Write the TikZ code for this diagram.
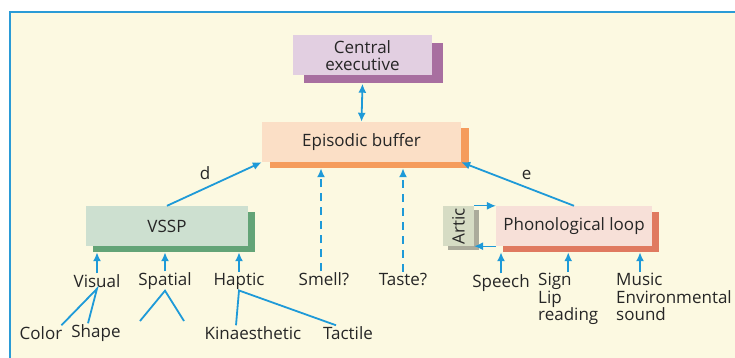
\documentclass[tikz,border=0pt]{standalone}
\usepackage{fontspec}
\setmainfont{Open Sans}
\usetikzlibrary{arrows.meta,calc,shadows}
\definecolor{PaperYellow}{RGB}{252,249,225}
\definecolor{FrameBlue}{RGB}{42,155,214}
\definecolor{ArrowBlue}{RGB}{30,154,216}
\definecolor{InkGray}{RGB}{38,38,38}
\definecolor{ExecLight}{RGB}{226,207,225}
\definecolor{ExecDark}{RGB}{168,111,160}
\definecolor{BufLight}{RGB}{251,223,198}
\definecolor{BufDark}{RGB}{245,156,92}
\definecolor{VsspLight}{RGB}{205,224,208}
\definecolor{VsspDark}{RGB}{99,164,119}
\definecolor{PhonLight}{RGB}{247,224,216}
\definecolor{PhonDark}{RGB}{224,122,96}
\definecolor{ArticLight}{RGB}{214,220,196}
\definecolor{ArticDark}{RGB}{171,171,155}

\begin{document}
\begin{tikzpicture}[x=1pt,y=-1pt,>={Latex[length=9pt,width=8pt]},
    every node/.style={text=InkGray,font=\fontsize{17}{17.5}\selectfont},
    membox/.style={minimum height=40pt,inner sep=0pt,align=center},
    link/.style={ArrowBlue,line width=1.8pt},
    maybe/.style={link,dash pattern=on 8pt off 6pt},
    word/.style={inner sep=1pt}]
  \useasboundingbox (0,0) rectangle (735,358);
  \fill[PaperYellow] (10,12) rectangle (760,380);
  \draw[FrameBlue,line width=2.5pt] (10,12) rectangle (760,380);
  % stores
  \node[membox,minimum width=139pt,fill=ExecLight,
    drop shadow={shadow xshift=11pt,shadow yshift=-8pt,fill=ExecDark,opacity=1}]
    (Cexec) at (362.5,55.5) {Central\\executive};
  \node[membox,minimum width=199pt,fill=BufLight,
    drop shadow={shadow xshift=8pt,shadow yshift=-6pt,fill=BufDark,opacity=1}]
    (Ebuf) at (361.5,142) {Episodic buffer};
  \node[membox,minimum width=162pt,fill=VsspLight,
    drop shadow={shadow xshift=7pt,shadow yshift=-6pt,fill=VsspDark,opacity=1}]
    (Vssp) at (167,226) {VSSP};
  \node[membox,minimum width=156pt,fill=PhonLight,
    drop shadow={shadow xshift=7pt,shadow yshift=-6pt,fill=PhonDark,opacity=1}]
    (Phon) at (574,226) {Phonological loop};
  \node[membox,minimum width=31pt,fill=ArticLight,
    drop shadow={shadow xshift=5pt,shadow yshift=-4pt,fill=ArticDark,opacity=1}]
    (Artic) at (458.5,226) {\rotatebox{90}{Artic}};
  \coordinate (Ebase) at ([yshift=-6pt]Ebuf.south);
  \coordinate (Vbase) at ([yshift=-6pt]Vssp.south);
  \coordinate (Pbase) at ([yshift=-6pt]Phon.south);
  % inputs
  \node[word] (Visual) at (97,281) {Visual};
  \node[word] (Spatial) at (165,281) {Spatial};
  \node[word] (Haptic) at (239,281) {Haptic};
  \node[word] (Color) at (41,333) {Color};
  \node[word] (Shape) at (96,333) {Shape};
  \node[word] (Kin) at (253,333) {Kinaesthetic};
  \node[word] (Tactile) at (348,333) {Tactile};
  \coordinate (SpA) at (140,321);
  \coordinate (SpB) at (184,321);
  \node[word] (Smell) at (324,279) {Smell?};
  \node[word] (Taste) at (403,279) {Taste?};
  \node[word] (Speech) at (501,283) {Speech};
  \node[word,align=left,anchor=north west] (Sign) at (537,272) {Sign\\Lip\\reading};
  \node[word,align=left,anchor=north west] (Music) at (615,272) {Music\\Environmental\\sound};
  \coordinate (MusicTop) at ([xshift=25pt]Music.north west);
  % links
  \draw[link,<->] ([yshift=-8pt]Cexec.south) -- (Ebuf.north);
  \draw[link,->] (Vssp.north) -- node[pos=0.5,above left=0pt] {d} (Ebuf.south west);
  \draw[link,->] (Phon.north) -- node[pos=0.5,above right=0pt] {e} (Ebuf.south east);
  \draw[maybe,->] ([xshift=-3pt]Smell.north) -- ([xshift=-3pt]Smell.north |- Ebase);
  \draw[maybe,->] (Taste.north) -- (Taste.north |- Ebase);
  \draw[link,line width=1.2pt,->] (Artic.north east) -- (Phon.north west);
  \draw[link,line width=1.2pt,->] (Phon.south west) -- (Artic.south east);
  \foreach \src in {Visual,Spatial,Haptic}
    \draw[link,->] (\src.north) -- (\src.north |- Vbase);
  \draw[link,->] (Speech.north) -- (Speech.north |- Pbase);
  \draw[link,->] (Sign.north) -- (Sign.north |- Pbase);
  \draw[link,->] (MusicTop) -- (MusicTop |- Pbase);
  \draw[link] ([xshift=-2pt]Color.north east) -- (Visual.south) -- ([xshift=-8pt]Shape.north);
  \draw[link] (SpA) -- (Spatial.south) -- (SpB);
  \draw[link] ([xshift=-17pt]Kin.north) -- (Haptic.south) -- ([xshift=-12pt]Tactile.north);
\end{tikzpicture}
\end{document}
